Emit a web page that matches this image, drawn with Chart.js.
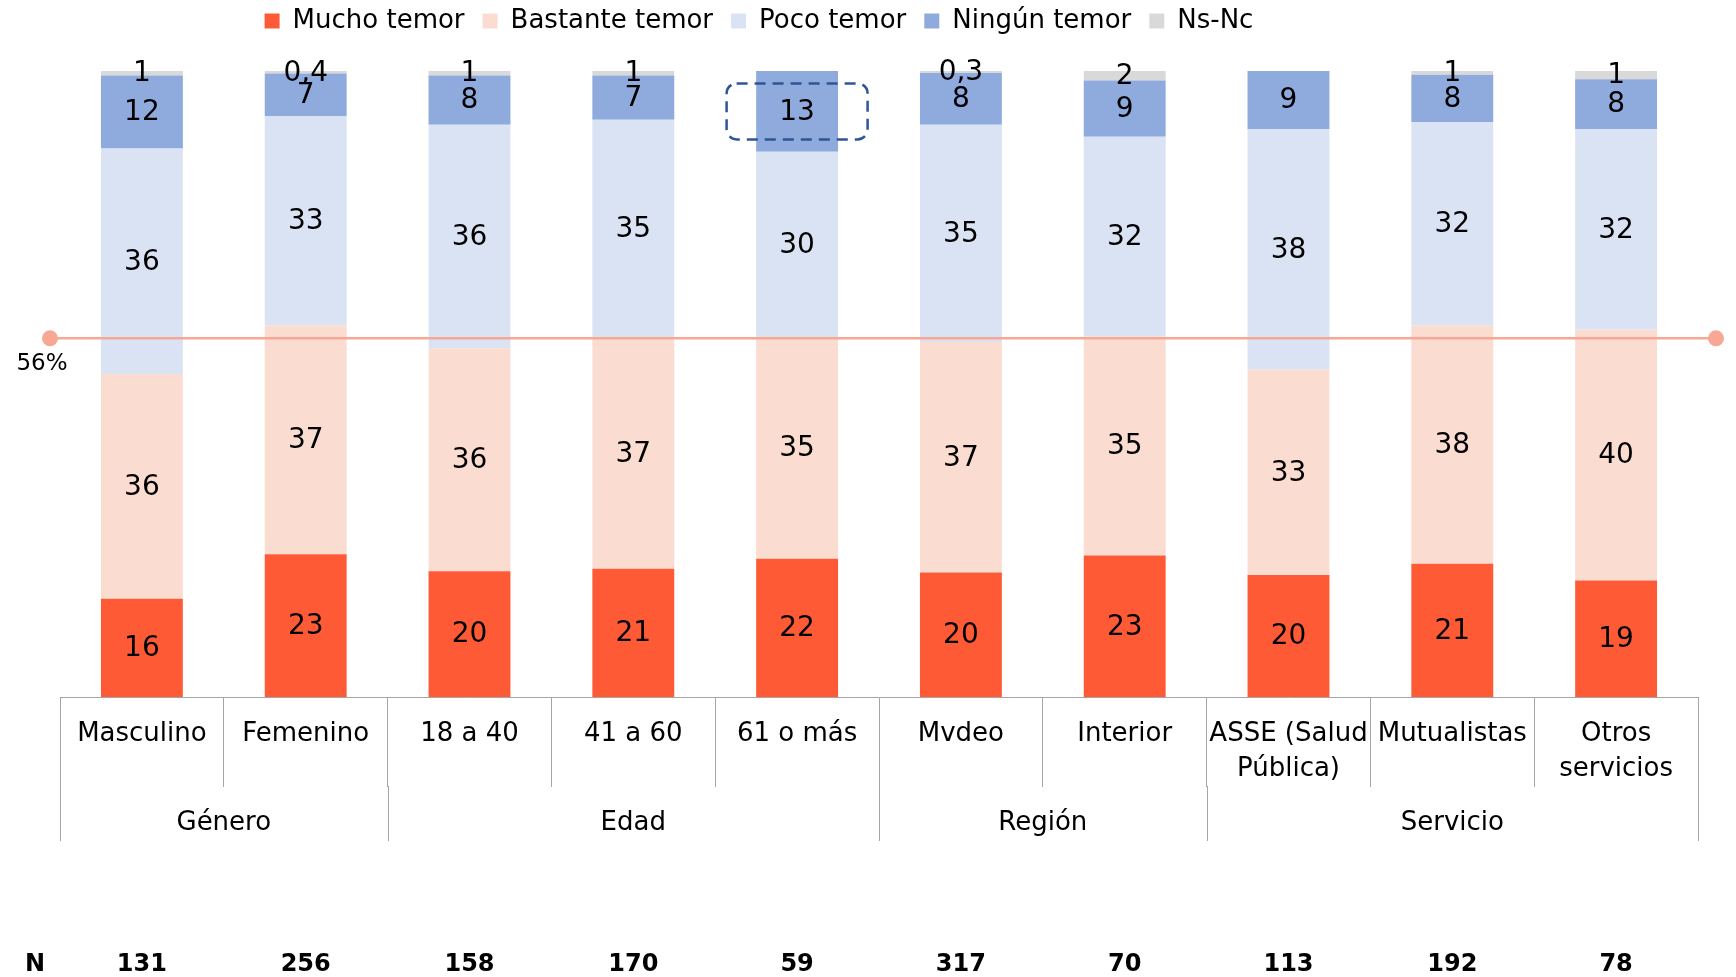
<!DOCTYPE html>
<html>
<head>
<meta charset="utf-8">
<script src="https://cdn.jsdelivr.net/npm/chart.js@4.4.0/dist/chart.umd.min.js"></script>
<style>
  html, body { margin: 0; padding: 0; background: #ffffff; }
  #wrap { width: 1736px; height: 977px; position: relative; }
</style>
</head>
<body>
<div id="wrap"><canvas id="c" width="1736" height="977"></canvas></div>
<script>
// ---------- DATA ----------
const categories = ['Masculino', 'Femenino', '18 a 40', '41 a 60', '61 o más', 'Mvdeo', 'Interior', ['ASSE (Salud', 'Pública)'], 'Mutualistas', ['Otros', 'servicios']];
const groupNames = ['Género', 'Edad', 'Región', 'Servicio'];
const groupSizes = [2, 3, 2, 3];
const nLabel = 'N';
const nValues = [131, 256, 158, 170, 59, 317, 70, 113, 192, 78];

const seriesNames = ['Mucho temor', 'Bastante temor', 'Poco temor', 'Ningún temor', 'Ns-Nc'];
const muchoTemor    = [15.7, 22.8, 20.1, 20.5, 22.1, 19.9, 22.6, 19.5, 21.3, 18.6];
const bastanteTemor = [35.9, 36.6, 35.6, 36.8, 35.3, 36.8, 35.0, 32.8, 38.1, 40.1];
const pocoTemor     = [36.0, 33.4, 35.7, 34.9, 29.7, 34.7, 31.9, 38.4, 32.4, 32.0];
const ningunTemor   = [11.7,  6.8,  7.9,  7.1, 12.9,  8.3,  9.0,  9.3,  7.6,  8.0];
const nsNc          = [ 0.7,  0.4,  0.7,  0.7,  0.0,  0.3,  1.5,  0.0,  0.6,  1.3];

const refLineValue = 57.3;
const refLineLabel = '56%';
const highlightSeries = 3;   // Ningún temor
const highlightIndex = 4;    // 61 o más

// ---------- STYLE ----------
const seriesColors = ['#FF5A36', '#FBDCD0', '#DAE3F3', '#8FAADC', '#D9D9D9'];
const FONT = "'DejaVu Sans', 'Liberation Sans', sans-serif";
const AXIS_GRAY = '#A6A6A6';

Chart.defaults.font.family = FONT;
Chart.defaults.color = '#000000';

function fmt(v) {
  if (v < 0.5) return v.toFixed(1).replace('.', ',');
  return String(Math.round(v));
}

const allSeries = [muchoTemor, bastanteTemor, pocoTemor, ningunTemor, nsNc];

const overlay = {
  id: 'overlay',
  beforeInit(chart) {
    const lg = chart.legend;
    if (lg) {
      const origFit = lg.fit;
      lg.fit = function () { origFit.call(this); if (this.options.display) this.height += 17; };
    }
  },
  afterLayout(chart) {
    const lg = chart.legend;
    if (lg) { lg.top -= 10; lg.bottom -= 10; lg.left -= 120; lg.right -= 120; }
  },
  afterDatasetsDraw(chart) {
    const ctx = chart.ctx;
    const area = chart.chartArea;
    const yScale = chart.scales.y;
    // reference line
    const ry = yScale.getPixelForValue(refLineValue);
    const x1 = area.left - 10, x2 = area.right + 18;
    ctx.save();
    ctx.strokeStyle = '#F7A793';
    ctx.fillStyle = '#F7A793';
    ctx.lineWidth = 2.5;
    ctx.beginPath(); ctx.moveTo(x1, ry); ctx.lineTo(x2, ry); ctx.stroke();
    ctx.beginPath(); ctx.arc(x1, ry, 8, 0, Math.PI * 2); ctx.fill();
    ctx.beginPath(); ctx.arc(x2, ry, 8, 0, Math.PI * 2); ctx.fill();
    ctx.fillStyle = '#000';
    ctx.font = '23px ' + FONT;
    ctx.textAlign = 'center';
    ctx.textBaseline = 'middle';
    ctx.fillText(refLineLabel, x1 - 8, ry + 26);
    ctx.restore();

    // data labels
    ctx.save();
    ctx.font = '28px ' + FONT;
    ctx.fillStyle = '#000';
    ctx.textAlign = 'center';
    ctx.textBaseline = 'middle';
    chart.data.datasets.forEach((ds, di) => {
      const meta = chart.getDatasetMeta(di);
      meta.data.forEach((bar, i) => {
        const v = ds.data[i];
        if (!v) return;
        const p = bar.getProps(['x', 'y', 'base'], true);
        ctx.fillText(fmt(v), p.x, (p.y + p.base) / 2 + 1);
      });
    });
    ctx.restore();

    // dashed highlight box
    const hb = chart.getDatasetMeta(highlightSeries).data[highlightIndex];
    if (hb) {
      const p = hb.getProps(['x', 'y', 'base'], true);
      const cy = (p.y + p.base) / 2;
      const w = 141, h = 56;
      ctx.save();
      ctx.strokeStyle = '#2F5597';
      ctx.lineWidth = 2.5;
      ctx.setLineDash([11, 7]);
      ctx.beginPath();
      ctx.roundRect(p.x - w / 2, cy - h / 2, w, h, 10);
      ctx.stroke();
      ctx.restore();
    }
  },
  afterDraw(chart) {
    const ctx = chart.ctx;
    const area = chart.chartArea;
    const xs = chart.scales.x;
    const n = categories.length;
    const step = (xs.getPixelForValue(1) - xs.getPixelForValue(0));
    const edge = (i) => xs.getPixelForValue(0) - step / 2 + i * step;
    ctx.save();
    ctx.strokeStyle = AXIS_GRAY;
    ctx.lineWidth = 1;
    let start = 0;
    const bounds = [0];
    groupSizes.forEach(s => { start += s; bounds.push(start); });
    bounds.forEach(b => {
      const x = Math.round(edge(b)) + 0.5;
      ctx.beginPath(); ctx.moveTo(x, area.bottom + 89); ctx.lineTo(x, area.bottom + 144); ctx.stroke();
    });
    ctx.fillStyle = '#000';
    ctx.font = '26px ' + FONT;
    ctx.textAlign = 'center';
    ctx.textBaseline = 'middle';
    for (let g = 0; g < groupNames.length; g++) {
      const cx = (edge(bounds[g]) + edge(bounds[g + 1])) / 2;
      ctx.fillText(groupNames[g], cx, area.bottom + 126);
    }
    ctx.font = 'bold 24px ' + FONT;
    ctx.fillText(nLabel, area.left - 25, area.bottom + 268);
    for (let i = 0; i < n; i++) {
      ctx.fillText(String(nValues[i]), xs.getPixelForValue(i), area.bottom + 268);
    }
    ctx.restore();
  }
};

new Chart(document.getElementById('c'), {
  type: 'bar',
  data: {
    labels: categories,
    datasets: seriesNames.map((name, i) => ({
      label: name,
      data: allSeries[i],
      backgroundColor: seriesColors[i],
      borderWidth: 0,
      categoryPercentage: 1.0,
      barPercentage: 0.5
    }))
  },
  options: {
    responsive: false,
    animation: false,
    devicePixelRatio: 1,
    layout: { padding: { left: 60, right: 38, top: 0, bottom: 0 } },
    plugins: {
      tooltip: { enabled: false },
      legend: {
        display: true,
        position: 'top',
        align: 'center',
        labels: {
          boxWidth: 15,
          boxHeight: 15,
          padding: 18,
          color: '#000',
          font: { size: 26, family: FONT }
        }
      }
    },
    scales: {
      x: {
        stacked: true,
        offset: true,
        grid: { display: true, drawOnChartArea: false, drawTicks: true, tickLength: 90, color: AXIS_GRAY, lineWidth: 1, offset: true },
        border: { display: true, color: AXIS_GRAY, width: 1 },
        ticks: {
          autoSkip: false, maxRotation: 0, minRotation: 0,
          padding: -70,
          color: '#000',
          font: { size: 26, family: FONT, lineHeight: 1.35 }
        },
        afterFit(scale) { scale.height = 280; }
      },
      y: {
        stacked: true,
        display: false,
        min: 0,
        max: 100
      }
    }
  },
  plugins: [overlay]
});
</script>
</body>
</html>
